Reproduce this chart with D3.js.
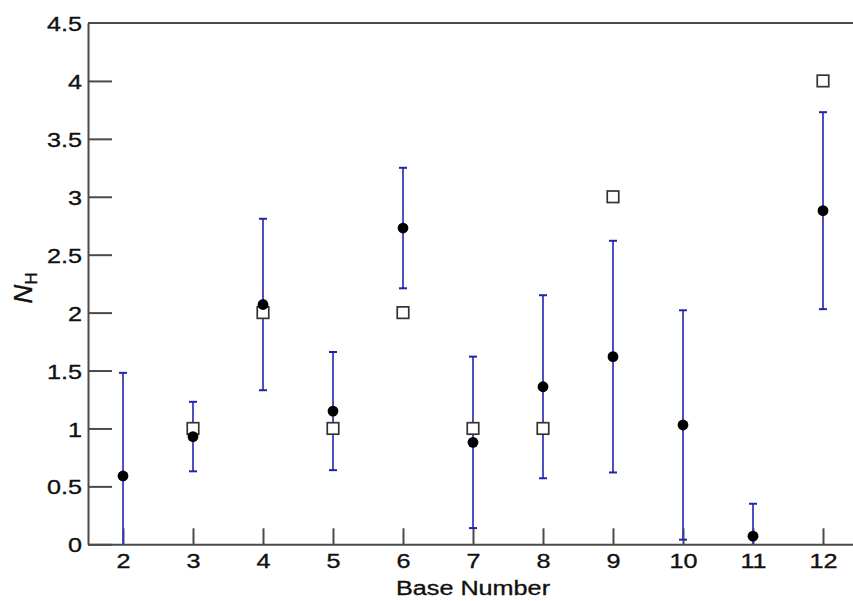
<!DOCTYPE html>
<html>
<head>
<meta charset="utf-8">
<script src="https://cdn.jsdelivr.net/npm/d3@7"></script>
<style>
  body { margin: 0; background: #fff; }
  svg { display: block; }
  text { font-family: "Liberation Sans", Arial, sans-serif; fill: #111; stroke: #111; stroke-width: 0.35px; }
</style>
</head>
<body>
<div class="graph"></div>
<script>
// data
const baseNumbers = [2, 3, 4, 5, 6, 7, 8, 9, 10, 11, 12];
const meanValues  = [0.59, 0.93, 2.07, 1.15, 2.73, 0.88, 1.36, 1.62, 1.03, 0.07, 2.88];
const errValues   = [0.89, 0.30, 0.74, 0.51, 0.52, 0.74, 0.79, 1.00, 0.99, 0.28, 0.85];
const squareBases  = [3, 4, 5, 6, 7, 8, 9, 12];
const squareValues = [1, 2, 1, 2, 1, 1, 3, 4];
const yTicks = [0, 0.5, 1, 1.5, 2, 2.5, 3, 3.5, 4, 4.5];

const width = 853, height = 601;
const stretch = 1.2; // text looks wider than tall in the picture
const fontSize = '21px';

const svg = d3.select('.graph').append('svg')
  .attr('width', width)
  .attr('height', height);

const x = d3.scaleLinear().domain([1.5, 12.5]).range([88, 858]);
const y = d3.scaleLinear().domain([0, 4.5]).range([544.3, 23]);

const axisColor = '#4a4a4a';

// x axis
const gx = svg.append('g')
  .attr('transform', `translate(0,${y(0)})`)
  .call(d3.axisBottom(x).tickValues(baseNumbers).tickSize(-16).tickSizeOuter(0).tickPadding(0).tickFormat(d3.format('d')));
gx.selectAll('text').remove();
gx.selectAll('.tick').append('text')
  .attr('transform', `scale(${stretch},1)`)
  .attr('y', 24)
  .attr('text-anchor', 'middle')
  .style('font-size', fontSize)
  .text(d => d);

// y axis
const gy = svg.append('g')
  .attr('transform', `translate(${x(1.5)},0)`)
  .call(d3.axisLeft(y).tickValues(yTicks).tickSize(-24).tickSizeOuter(0).tickFormat(d => d));
gy.selectAll('text').remove();
gy.selectAll('.tick').append('text')
  .attr('transform', `scale(${stretch},1)`)
  .attr('x', -6 / stretch)
  .attr('dy', '0.36em')
  .attr('text-anchor', 'end')
  .style('font-size', fontSize)
  .text(d => d);
// no tick mark on top
gy.selectAll('.tick').filter(d => d === 4.5).select('line').remove();

[gx, gy].forEach(g => {
  g.select('.domain').attr('stroke', axisColor).attr('stroke-width', 2);
  g.selectAll('.tick line').attr('stroke', axisColor).attr('stroke-width', 2);
});

// top frame line
svg.append('line')
  .attr('x1', x(1.5)).attr('x2', width)
  .attr('y1', y(4.5)).attr('y2', y(4.5))
  .attr('stroke', axisColor).attr('stroke-width', 2);

// error bars
const points = baseNumbers.map((b, i) => ({ b, m: meanValues[i], e: errValues[i] }));
const barColor = '#3c3cb8';
const capHalf = 4;
const bars = svg.append('g');
points.forEach(p => {
  const lo = Math.max(0, p.m - p.e), hi = p.m + p.e;
  bars.append('line')
    .attr('x1', x(p.b)).attr('x2', x(p.b))
    .attr('y1', y(lo)).attr('y2', y(hi))
    .attr('stroke', barColor).attr('stroke-width', 1.8);
  bars.append('line')
    .attr('x1', x(p.b) - capHalf).attr('x2', x(p.b) + capHalf)
    .attr('y1', y(hi)).attr('y2', y(hi))
    .attr('stroke', '#2222aa').attr('stroke-width', 2);
  if (p.m - p.e > 0) {
    bars.append('line')
      .attr('x1', x(p.b) - capHalf).attr('x2', x(p.b) + capHalf)
      .attr('y1', y(lo)).attr('y2', y(lo))
      .attr('stroke', '#2222aa').attr('stroke-width', 2);
  }
});

// open squares
const sq = 11.5;
svg.append('g').selectAll('rect')
  .data(squareBases.map((b, i) => ({ b, v: squareValues[i] })))
  .enter().append('rect')
  .attr('x', d => x(d.b) - sq / 2)
  .attr('y', d => y(d.v) - sq / 2)
  .attr('width', sq)
  .attr('height', sq)
  .attr('fill', '#fff')
  .attr('stroke', '#333')
  .attr('stroke-width', 1.7);

// filled circles
svg.append('g').selectAll('circle')
  .data(points)
  .enter().append('circle')
  .attr('cx', d => x(d.b))
  .attr('cy', d => y(d.m))
  .attr('r', 5.4)
  .attr('fill', '#000');

// axis titles
svg.append('text')
  .attr('transform', `translate(${x(7)},595) scale(${stretch},1)`)
  .attr('text-anchor', 'middle')
  .style('font-size', fontSize)
  .text('Base Number');

const yl = svg.append('text')
  .attr('transform', `translate(32,288) rotate(-90)`)
  .attr('text-anchor', 'middle')
  .style('font-size', '26px');
yl.append('tspan').style('font-style', 'italic').text('N');
yl.append('tspan').attr('dy', 5).style('font-size', '17px').text('H');
</script>
</body>
</html>
